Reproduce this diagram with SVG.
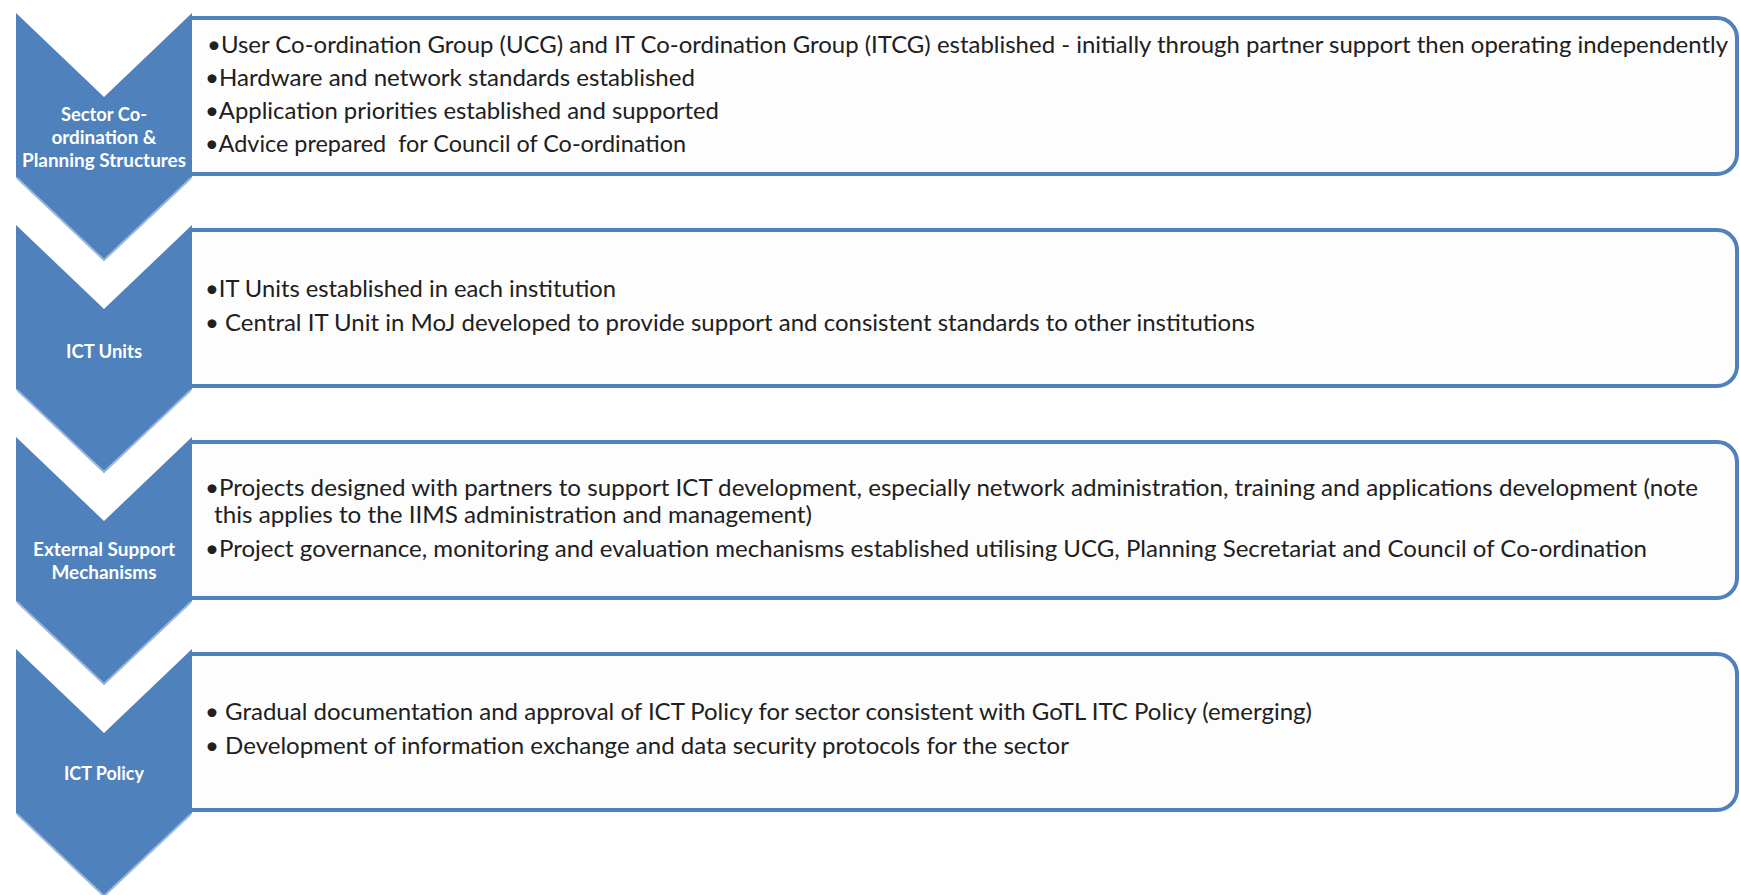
<svg xmlns="http://www.w3.org/2000/svg" width="1740" height="895" viewBox="0 0 1740 895">
  <style>
    .chev { fill: #4F81BD; }
    .chev-edge { fill: none; stroke: #9DB8DA; stroke-width: 2; }
    .panel { fill: #FDFDFD; stroke: #4F81BD; stroke-width: 4; }
    .label { font-family: Lato, "Liberation Sans", sans-serif; font-weight: bold; font-size: 19px; fill: #FFFFFF; text-anchor: middle; }
    .item { font-family: Lato, "Liberation Sans", sans-serif; font-size: 24px; fill: #202020; }
  </style>

  <!-- Stage 1: sector co-ordination -->
  <g id="stage-coordination">
    <path class="panel" d="M192,18 H1717 A20,20 0 0 1 1737,38 V154 A20,20 0 0 1 1717,174 H192"/>
    <polygon class="chev" points="16,13 104,97 192,13 192,177 104,261 16,177"/>
    <path class="chev-edge" d="M17,178 L104,260 L191,178"/>
    <text class="label" x="104" y="121" textLength="86" lengthAdjust="spacingAndGlyphs">Sector Co-</text>
    <text class="label" x="104" y="144" textLength="105" lengthAdjust="spacingAndGlyphs">ordination &amp;</text>
    <text class="label" x="104" y="167" textLength="164" lengthAdjust="spacingAndGlyphs">Planning Structures</text>
    <text class="item" x="207" y="53" textLength="1521" lengthAdjust="spacingAndGlyphs">•User Co-ordination Group (UCG) and IT Co-ordination Group (ITCG) established - initially through partner support then operating independently</text>
    <text class="item" x="205" y="86" textLength="490" lengthAdjust="spacingAndGlyphs">•Hardware and network standards established</text>
    <text class="item" x="205" y="119" textLength="514" lengthAdjust="spacingAndGlyphs">•Application priorities established and supported</text>
    <text class="item" x="205" y="152" textLength="481" lengthAdjust="spacingAndGlyphs" xml:space="preserve">•Advice prepared  for Council of Co-ordination</text>
  </g>

  <!-- Stage 2: ICT units -->
  <g id="stage-ict-units">
    <path class="panel" d="M192,230 H1717 A20,20 0 0 1 1737,250 V366 A20,20 0 0 1 1717,386 H192"/>
    <polygon class="chev" points="16,225 104,309 192,225 192,389 104,473 16,389"/>
    <path class="chev-edge" d="M17,390 L104,472 L191,390"/>
    <text class="label" x="104" y="358" textLength="76" lengthAdjust="spacingAndGlyphs">ICT Units</text>
    <text class="item" x="205" y="297" textLength="411" lengthAdjust="spacingAndGlyphs">•IT Units established in each institution</text>
    <text class="item" x="205" y="331" textLength="1050" lengthAdjust="spacingAndGlyphs">• Central IT Unit in MoJ developed to provide support and consistent standards to other institutions</text>
  </g>

  <!-- Stage 3: external support -->
  <g id="stage-external-support">
    <path class="panel" d="M192,442 H1717 A20,20 0 0 1 1737,462 V578 A20,20 0 0 1 1717,598 H192"/>
    <polygon class="chev" points="16,437 104,521 192,437 192,601 104,685 16,601"/>
    <path class="chev-edge" d="M17,602 L104,684 L191,602"/>
    <text class="label" x="104" y="556" textLength="142" lengthAdjust="spacingAndGlyphs">External Support</text>
    <text class="label" x="104" y="579" textLength="105" lengthAdjust="spacingAndGlyphs">Mechanisms</text>
    <text class="item" x="205" y="496" textLength="1493" lengthAdjust="spacingAndGlyphs">•Projects designed with partners to support ICT development, especially network administration, training and applications development (note</text>
    <text class="item" x="214" y="523" textLength="598" lengthAdjust="spacingAndGlyphs">this applies to the IIMS administration and management)</text>
    <text class="item" x="205" y="557" textLength="1442" lengthAdjust="spacingAndGlyphs">•Project governance, monitoring and evaluation mechanisms established utilising UCG, Planning Secretariat and Council of Co-ordination</text>
  </g>

  <!-- Stage 4: ICT policy -->
  <g id="stage-ict-policy">
    <path class="panel" d="M192,654 H1717 A20,20 0 0 1 1737,674 V790 A20,20 0 0 1 1717,810 H192"/>
    <polygon class="chev" points="16,649 104,733 192,649 192,813 104,897 16,813"/>
    <path class="chev-edge" d="M17,814 L104,896 L191,814"/>
    <text class="label" x="104" y="780" textLength="80" lengthAdjust="spacingAndGlyphs">ICT Policy</text>
    <text class="item" x="205" y="720" textLength="1107" lengthAdjust="spacingAndGlyphs">• Gradual documentation and approval of ICT Policy for sector consistent with GoTL ITC Policy (emerging)</text>
    <text class="item" x="205" y="754" textLength="864" lengthAdjust="spacingAndGlyphs">• Development of information exchange and data security protocols for the sector</text>
  </g>

  <!-- the chevron column carries the sequence; no separate links -->
  <g id="connectors"/>
</svg>
